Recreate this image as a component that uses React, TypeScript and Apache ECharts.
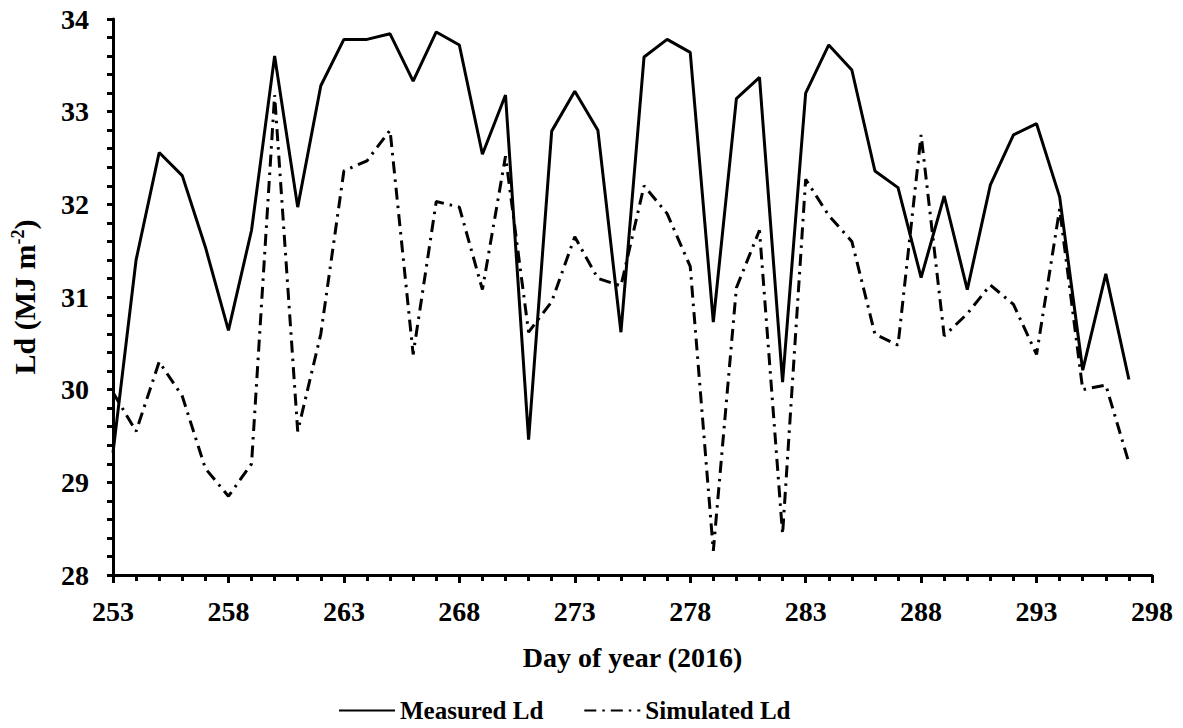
import React, { useEffect, useRef } from "react";
import * as echarts from "echarts";

const days = [253, 254, 255, 256, 257, 258, 259, 260, 261, 262, 263, 264, 265, 266, 267, 268, 269, 270, 271, 272, 273, 274, 275, 276, 277, 278, 279, 280, 281, 282, 283, 284, 285, 286, 287, 288, 289, 290, 291, 292, 293, 294, 295, 296, 297];

const measured = [29.32, 31.4, 32.56, 32.31, 31.54, 30.64, 31.72, 33.6, 31.97, 33.28, 33.78, 33.78, 33.84, 33.33, 33.86, 33.72, 32.54, 33.18, 29.46, 32.79, 33.22, 32.8, 30.62, 33.59, 33.78, 33.64, 30.73, 33.14, 33.37, 30.08, 33.2, 33.72, 33.45, 32.36, 32.18, 31.21, 32.09, 31.08, 32.21, 32.75, 32.87, 32.08, 30.21, 31.25, 30.11];

const simulated = [29.97, 29.55, 30.3, 29.93, 29.15, 28.85, 29.2, 33.18, 29.55, 30.6, 32.36, 32.47, 32.8, 30.38, 32.03, 31.97, 31.08, 32.52, 30.62, 30.95, 31.65, 31.2, 31.12, 32.2, 31.9, 31.33, 28.26, 31.1, 31.72, 28.44, 32.27, 31.88, 31.6, 30.6, 30.48, 32.75, 30.58, 30.82, 31.13, 30.92, 30.38, 31.95, 30.0, 30.05, 29.21];

const seriesNames = ["Measured Ld", "Simulated Ld"];

const FONT = "'Liberation Serif', 'Times New Roman', serif";

export default function App() {
  const ref = useRef<HTMLDivElement>(null);
  useEffect(() => {
    if (!ref.current) return;
    const chart = echarts.init(ref.current, undefined, { renderer: "svg" });
    const axisLine = { show: true, lineStyle: { color: "#000", width: 3 } };
    chart.setOption({
      animation: false,
      backgroundColor: "#fff",
      grid: { left: 113, right: 31, top: 19, bottom: 153, containLabel: false },
      legend: {
        bottom: 0,
        left: 333,
        itemWidth: 56,
        itemHeight: 14,
        itemGap: 40,
        data: seriesNames,
        itemStyle: { opacity: 0, color: "transparent", borderColor: "transparent", borderWidth: 0 },
        textStyle: { fontFamily: FONT, fontWeight: "bold", fontSize: 25, color: "#000" },
      },
      xAxis: {
        type: "value",
        min: 253,
        max: 298,
        interval: 5,
        name: "Day of year (2016)",
        nameLocation: "middle",
        nameGap: 68,
        nameTextStyle: { fontFamily: FONT, fontWeight: "bold", fontSize: 28, color: "#000" },
        axisLine,
        axisTick: { show: true, length: 8, lineStyle: { color: "#000", width: 3 } },
        minorTick: { show: true, splitNumber: 5, length: 6, lineStyle: { color: "#000", width: 3 } },
        splitLine: { show: false },
        axisLabel: { margin: 22, fontFamily: FONT, fontWeight: "bold", fontSize: 28, color: "#000" },
      },
      yAxis: {
        type: "value",
        min: 28,
        max: 34,
        interval: 1,
        name: "{a|Ld (MJ m}{b|-2}{a|)}",
        nameLocation: "middle",
        nameGap: 74,
        nameRotate: 90,
        nameTextStyle: {
          color: "#000",
          rich: {
            a: { fontFamily: FONT, fontWeight: "bold", fontSize: 30, color: "#000" },
            b: { fontFamily: FONT, fontWeight: "bold", fontSize: 18, color: "#000", verticalAlign: "top" },
          },
        },
        axisLine,
        axisTick: { show: true, length: 6, lineStyle: { color: "#000", width: 3 } },
        minorTick: { show: true, splitNumber: 5, length: 6, lineStyle: { color: "#000", width: 3 } },
        splitLine: { show: false },
        axisLabel: { margin: 24, fontFamily: FONT, fontWeight: "bold", fontSize: 28, color: "#000" },
      },
      series: [
        {
          name: seriesNames[0],
          type: "line",
          symbol: "none",
          data: days.map((d, i) => [d, measured[i]]),
          lineStyle: { color: "#000", width: 3, type: "solid" },
          itemStyle: { color: "#000" },
        },
        {
          name: seriesNames[1],
          type: "line",
          symbol: "none",
          data: days.map((d, i) => [d, simulated[i]]),
          lineStyle: { color: "#000", width: 3, type: [12, 6, 2.5, 6], cap: "butt" },
          itemStyle: { color: "#000" },
        },
      ],
    });
    return () => chart.dispose();
  }, []);
  return (
    <div
      ref={ref}
      style={{ position: "fixed", left: 0, top: 0, width: 1183, height: 728, background: "#fff" }}
    />
  );
}
